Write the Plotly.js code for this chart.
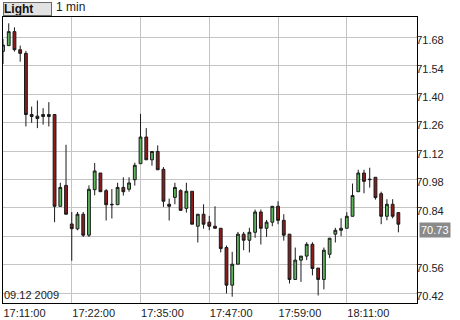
<!DOCTYPE html>
<html>
<head>
<meta charset="utf-8">
<script src="https://cdn.plot.ly/plotly-3.0.1.min.js"></script>
<style>html,body{margin:0;padding:0;background:#fff;}#chart{width:460px;height:320px;}</style>
</head>
<body>
<div id="chart"></div>
<script>
var openVals  = [71.611,71.639,71.708,71.619,71.601,71.300,71.292,71.290,71.290,71.300,
                 70.848,70.951,70.761,70.737,70.809,70.706,70.930,71.012,70.925,70.858,
                 70.856,70.941,70.932,70.979,71.058,71.189,71.077,71.118,71.030,70.858,
                 70.892,70.925,70.838,70.922,70.750,70.809,70.770,70.750,70.740,70.645,
                 70.460,70.563,70.711,70.681,70.720,70.820,70.740,70.770,70.848,70.779,
                 70.711,70.488,70.583,70.603,70.661,70.544,70.488,70.612,70.711,70.730,
                 70.740,70.799,70.920,71.012,70.979,70.991,70.910,70.799,70.858,70.817];
var highVals  = [71.672,71.749,71.729,71.639,71.613,71.339,71.369,71.331,71.361,71.300,
                 70.964,71.151,70.820,70.820,70.820,70.951,71.061,71.012,70.933,70.933,
                 70.964,70.991,70.991,71.063,71.303,71.233,71.118,71.148,71.041,70.886,
                 70.964,70.932,70.964,70.922,70.809,70.858,70.801,70.848,70.740,70.655,
                 70.624,70.722,70.722,70.742,70.832,70.832,70.781,70.848,70.873,70.809,
                 70.711,70.645,70.603,70.671,70.671,70.544,70.645,70.691,70.742,70.789,
                 70.819,70.960,71.028,71.028,71.038,70.991,70.920,70.883,70.883,70.817];
var lowVals   = [71.549,71.639,71.610,71.560,71.241,71.259,71.233,71.250,71.241,70.770,
                 70.848,70.809,70.580,70.730,70.697,70.697,70.902,70.920,70.778,70.788,
                 70.856,70.901,70.920,70.950,71.058,71.077,71.048,71.028,70.845,70.778,
                 70.858,70.828,70.817,70.760,70.670,70.738,70.730,70.740,70.621,70.419,
                 70.403,70.563,70.632,70.621,70.693,70.660,70.697,70.750,70.760,70.679,
                 70.468,70.488,70.476,70.583,70.508,70.409,70.439,70.593,70.670,70.701,
                 70.740,70.799,70.920,70.912,70.940,70.881,70.760,70.779,70.789,70.720];
var closeVals = [71.642,71.708,71.619,71.601,71.300,71.290,71.280,71.300,71.300,70.848,
                 70.941,70.809,70.738,70.809,70.706,70.932,71.022,70.920,70.856,70.856,
                 70.941,70.920,70.963,71.050,71.189,71.077,71.118,71.028,70.873,70.848,
                 70.941,70.828,70.922,70.760,70.809,70.760,70.750,70.740,70.640,70.460,
                 70.563,70.711,70.681,70.720,70.820,70.740,70.770,70.848,70.779,70.706,
                 70.488,70.583,70.603,70.661,70.542,70.488,70.632,70.691,70.730,70.740,
                 70.799,70.901,71.012,70.971,70.981,70.891,70.799,70.858,70.799,70.760];
var timeTickIdx = [0, 12, 24, 36, 48, 60];
var timeTickLabels = ["17:11:00","17:22:00","17:35:00","17:47:00","17:59:00","18:11:00"];
var priceTicks = [70.42,70.56,70.70,70.84,70.98,71.12,71.26,71.40,71.54,71.68];
var priceTickLabels = ["70.42","70.56","","70.84","70.98","71.12","71.26","71.40","71.54","71.68"];
var lastPrice = 70.73;
var dateLabel = "09.12 2009";
var styleLabel = "Light";
var intervalLabel = "1 min";

var xIdx = closeVals.map(function(_, i){ return i; });

var trace = {
  type: 'candlestick',
  x: xIdx, open: openVals, high: highVals, low: lowVals, close: closeVals,
  increasing: {line: {color: '#1a1a1a', width: 1}, fillcolor: '#5fb35f'},
  decreasing: {line: {color: '#1a1a1a', width: 1}, fillcolor: '#8e1b1b'},
  whiskerwidth: 0,
  hoverinfo: 'skip'
};

var layout = {
  width: 460, height: 320,
  margin: {l: 3, r: 43, t: 17, b: 17, pad: 0},
  paper_bgcolor: '#ffffff', plot_bgcolor: '#ffffff',
  showlegend: false,
  boxgap: 0.3,
  font: {family: 'Liberation Sans, Arial, sans-serif', size: 11, color: '#222'},
  xaxis: {
    range: [0, 72.25], rangeslider: {visible: false},
    tickmode: 'array', tickvals: timeTickIdx, ticktext: timeTickLabels,
    ticklabelposition: 'outside right',
    showgrid: true, gridcolor: '#c4c4c4', gridwidth: 1,
    showline: true, linecolor: '#000', linewidth: 1, mirror: true,
    ticks: '', zeroline: false, fixedrange: true,
    tickfont: {size: 11, color: '#222'}
  },
  yaxis: {
    range: [70.372, 71.78], side: 'right',
    tickmode: 'array', tickvals: priceTicks, ticktext: priceTickLabels,
    showgrid: true, gridcolor: '#c4c4c4', gridwidth: 1,
    showline: true, linecolor: '#000', linewidth: 1, mirror: true,
    ticks: '', zeroline: false, fixedrange: true,
    ticklabelstandoff: -4, ticklabelshift: 3,
    tickfont: {size: 11, color: '#222'}
  },
  annotations: [
    {text: '<b>' + styleLabel + '</b>', xref: 'paper', yref: 'paper',
     x: 0, y: 1, xanchor: 'left', yanchor: 'bottom', xshift: 0, yshift: 1,
     showarrow: false, align: 'left', width: 47, height: 12,
     bgcolor: '#e2e2e2', bordercolor: '#6a6a6a', borderwidth: 1, borderpad: 0,
     font: {size: 12, color: '#111'}},
    {text: intervalLabel, xref: 'paper', yref: 'paper',
     x: 0, y: 1, xanchor: 'left', yanchor: 'bottom', xshift: 51, yshift: 1,
     showarrow: false, font: {size: 12, color: '#222'}},
    {text: dateLabel, xref: 'paper', yref: 'paper',
     x: 0, y: 0, xanchor: 'left', yanchor: 'bottom', xshift: -1, yshift: 0,
     showarrow: false, font: {size: 11, color: '#222'}},
    {text: lastPrice.toFixed(2), xref: 'paper', yref: 'y',
     x: 1, y: lastPrice, xanchor: 'left', yanchor: 'middle', xshift: 2,
     showarrow: false, bgcolor: '#8a8a8a', borderpad: 1,
     font: {size: 11, color: '#ffffff'}}
  ]
};

Plotly.newPlot('chart', [trace], layout, {displayModeBar: false, staticPlot: true});
</script>
</body>
</html>
